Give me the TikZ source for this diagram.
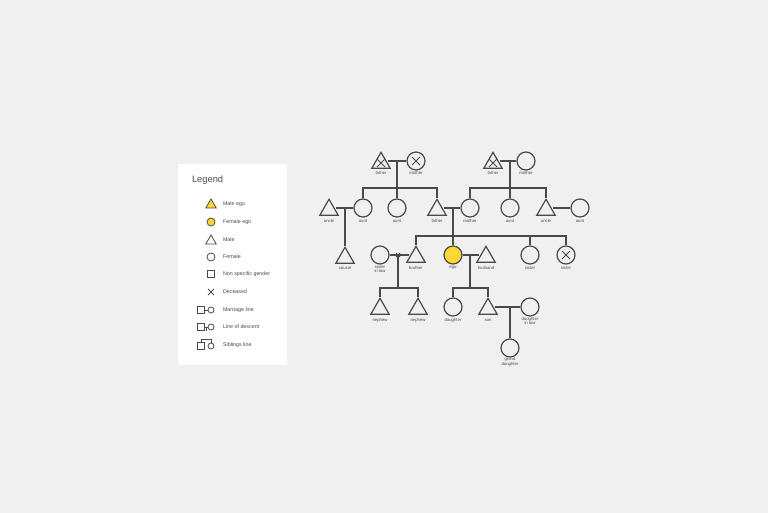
\documentclass[tikz,border=0pt]{standalone}
\usepackage{fontspec}
\setmainfont{Liberation Sans}
\usetikzlibrary{shapes.geometric}
\definecolor{bg}{HTML}{F0F0F0}
\definecolor{ink}{HTML}{4A4A4A}
\definecolor{ego}{HTML}{FDD835}
\begin{document}
\begin{tikzpicture}[x=0.75pt,y=-0.75pt,
  line width=0.9pt, draw=ink,
  fem/.style={circle,draw=ink,line width=0.9pt,minimum size=13.5pt,inner sep=0pt},
  mal/.style={regular polygon,regular polygon sides=3,draw=ink,line width=0.9pt,minimum size=16pt,inner sep=0pt},
  lbl/.style={font=\fontsize{3.2}{3.6}\selectfont,text=ink,align=center},
  ln/.style={draw=ink,line width=0.9pt},
  dec/.style={ln,line width=0.7pt},
  lg/.style={font=\fontsize{4}{4.8}\selectfont,text=ink,anchor=west}]
\fill[bg] (0,0) rectangle (768,513);
\useasboundingbox (0,0) rectangle (768,513);
% legend
\fill[white] (178,164) rectangle (287,365);
\node[anchor=west,font=\fontsize{7}{8}\selectfont,text=ink] (lt) at (187,180) {Legend};
\node[regular polygon,regular polygon sides=3,draw=ink,fill=ego,line width=0.6pt,minimum size=9pt,inner sep=0pt] (l1) at (211,205) {};
\node[lg] (t1) at (218,204) {Male ego};
\node[circle,draw=ink,fill=ego,line width=0.6pt,minimum size=6pt,inner sep=0pt] (l2) at (211,222) {};
\node[lg] (t2) at (218,222) {Female ego};
\node[regular polygon,regular polygon sides=3,draw=ink,line width=0.6pt,minimum size=9pt,inner sep=0pt] (l3) at (211,241) {};
\node[lg] (t3) at (218,240) {Male};
\node[circle,draw=ink,line width=0.6pt,minimum size=6pt,inner sep=0pt] (l4) at (211,257) {};
\node[lg] (t4) at (218,257) {Female};
\node[rectangle,draw=ink,line width=0.6pt,minimum size=5.5pt,inner sep=0pt] (l5) at (211,274) {};
\node[lg] (t5) at (218,274) {Non specific gender};
\coordinate (x1) at (208,289); \coordinate (x2) at (214,295);
\coordinate (x3) at (214,289); \coordinate (x4) at (208,295);
\draw[line width=0.6pt] (x1) -- (x2) (x3) -- (x4);
\node[lg] (t6) at (218,292) {Deceased};
\node[rectangle,draw=ink,line width=0.6pt,minimum size=5pt,inner sep=0pt] (m1) at (201,310) {};
\node[circle,draw=ink,line width=0.6pt,minimum size=4.5pt,inner sep=0pt] (m2) at (211,310) {};
\draw[line width=0.6pt] (m1) -- (m2);
\node[lg] (t7) at (218,310) {Marriage line};
\node[rectangle,draw=ink,line width=0.6pt,minimum size=5pt,inner sep=0pt] (d1) at (201,327) {};
\node[circle,draw=ink,line width=0.6pt,minimum size=4.5pt,inner sep=0pt] (d2) at (211,327) {};
\draw[line width=0.6pt] (d1) -- (d2);
\coordinate (d3) at (206,327); \coordinate (d4) at (206,331);
\draw[line width=0.6pt] (d3) -- (d4);
\node[lg] (t8) at (218,327) {Line of descent};
\node[rectangle,draw=ink,line width=0.6pt,minimum size=5pt,inner sep=0pt] (s1) at (201,346) {};
\node[circle,draw=ink,line width=0.6pt,minimum size=4.5pt,inner sep=0pt] (s2) at (211,346) {};
\draw[line width=0.6pt] (s1.north) -- ++(0,-3) -| (s2.north);
\node[lg] (t9) at (218,345) {Siblings line};
% generation 1
\node[mal] (pgf) at (381,163) {};
\node[fem] (pgm) at (416,161) {};
\node[mal] (mgf) at (493,163) {};
\node[fem] (mgm) at (526,161) {};
\node[lbl] at (381,173) {father};
\node[lbl] at (416,173) {mother};
\node[lbl] at (493,173) {father};
\node[lbl] at (526,173) {mother};
\draw[dec] (377,159)--(385,167) (385,159)--(377,167);
\draw[dec] (412,157)--(420,165) (420,157)--(412,165);
\draw[dec] (489,159)--(497,167) (497,159)--(489,167);
\draw[ln] (pgm.west) -- (pgm.west -| pgf.east);
\draw[ln] (mgm.west) -- (mgm.west -| mgf.east);
% generation 2
\node[mal] (u1) at (329,210) {};
\node[fem] (a1) at (363,208) {};
\node[fem] (a2) at (397,208) {};
\node[mal] (fa) at (437,210) {};
\node[fem] (mo) at (470,208) {};
\node[fem] (a3) at (510,208) {};
\node[mal] (u2) at (546,210) {};
\node[fem] (a4) at (580,208) {};
\foreach \n/\x/\t in {u1/329/uncle,a1/363/aunt,a2/397/aunt,fa/437/father,mo/470/mother,a3/510/aunt,u2/546/uncle,a4/580/aunt}
  \node[lbl] at (\x,221) {\t};
\coordinate (p1) at (397,161);
\coordinate (p2) at (397,188);
\draw[ln] (p1) -- (p2);
\draw[ln] (a1.north) |- (p2) -| (fa.north);
\draw[ln] (p2) -- (a2.north);
\coordinate (q1) at (510,161);
\coordinate (q2) at (510,188);
\draw[ln] (q1) -- (q2);
\draw[ln] (mo.north) |- (q2) -| (u2.north);
\draw[ln] (q2) -- (a3.north);
\draw[ln] (a1.west) -- (a1.west -| u1.east);
\draw[ln] (mo.west) -- (mo.west -| fa.east);
\draw[ln] (a4.west) -- (a4.west -| u2.east);
% generation 3
\node[mal] (co) at (345,258) {};
\node[lbl] at (345,268) {cousin};
\coordinate (c1) at (345,208);
\draw[ln] (c1) -- (co.north);
\node[fem] (sil) at (380,255) {};
\node[mal] (br) at (416,257) {};
\node[fem,fill=ego] (eg) at (453,255) {};
\node[mal] (hu) at (486,257) {};
\node[fem] (si1) at (530,255) {};
\node[fem] (si2) at (566,255) {};
\draw[dec] (562,251)--(570,259) (570,251)--(562,259);
\node[lbl] at (380,269) {sister\\in law};
\node[lbl] at (416,268) {brother};
\node[lbl] at (453,268) {ego};
\node[lbl] at (486,268) {husband};
\node[lbl] at (530,268) {sister};
\node[lbl] at (566,268) {sister};
\coordinate (f1) at (453,208);
\coordinate (f2) at (453,236);
\draw[ln] (f1) -- (eg.north);
\draw[ln] (br.north) |- (f2) -| (si2.north);
\coordinate (f3) at (530,236);
\draw[ln] (f3) -- (si1.north);
\draw[ln] (sil.east) -- (sil.east -| br.west);
\draw[ln] (eg.east) -- (eg.east -| hu.west);
\draw[dec] (396,253)--(400,257) (400,253)--(396,257);
% generation 4
\node[mal] (n1) at (380,309) {};
\node[mal] (n2) at (418,309) {};
\node[fem] (da) at (453,307) {};
\node[mal] (so) at (488,309) {};
\node[fem] (dil) at (530,307) {};
\node[lbl] at (380,320) {nephew};
\node[lbl] at (418,320) {nephew};
\node[lbl] at (453,320) {daughter};
\node[lbl] at (488,320) {son};
\node[lbl] at (530,321) {daughter\\in law};
\coordinate (b1) at (398,255);
\coordinate (b2) at (398,288);
\draw[ln] (b1) -- (b2);
\draw[ln] (n1.north) |- (b2) -| (n2.north);
\coordinate (e1) at (470,255);
\coordinate (e2) at (470,288);
\draw[ln] (e1) -- (e2);
\draw[ln] (da.north) |- (e2) -| (so.north);
\draw[ln] (dil.west) -- (dil.west -| so.east);
\node[fem] (gd) at (510,348) {};
\node[lbl] at (510,362) {grand\\daughter};
\coordinate (g1) at (510,307);
\draw[ln] (g1) -- (gd.north);
\end{tikzpicture}
\end{document}
